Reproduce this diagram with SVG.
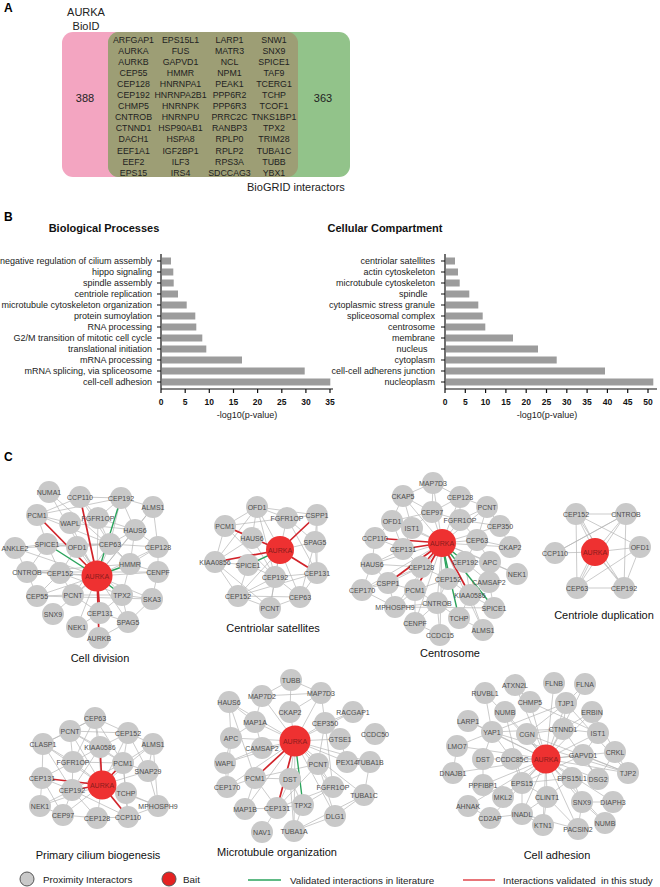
<svg xmlns="http://www.w3.org/2000/svg" width="660" height="887" viewBox="0 0 660 887">
<style>
text{font-family:"Liberation Sans",Arial,sans-serif;fill:#222}
.pl{font-weight:bold;font-size:12px;fill:#000}
.vt{font-size:8.8px;text-anchor:middle;fill:#222}
.ct{font-size:9px;text-anchor:end;fill:#222}
.tk{font-size:8.5px;font-weight:bold;text-anchor:middle;fill:#111}
.ttl{font-size:11px;font-weight:bold;text-anchor:middle;fill:#111}
.nt{font-size:11px;text-anchor:middle;fill:#111}
.bar{fill:#9c9c9c}
.ax{stroke:#111;stroke-width:1.2;fill:none}
.e{stroke:#b4b4b4;stroke-width:0.7;fill:none}
.r{stroke:#d1232a;stroke-width:1.7}
.g{stroke:#2ba35c;stroke-width:1.4}
.n circle{fill:#c9c9c9}
.n text{font-size:7px;text-anchor:middle;fill:#4d4d4d}
.b circle{fill:#ee3131}
.b text{font-size:7px;text-anchor:middle;fill:#8a1c1c}
.lg{font-size:9.8px;fill:#222}
</style>

<!-- Panel A -->
<g id="panelA">
<text class="pl" x="4" y="12">A</text>
<text x="86" y="16" font-size="11" text-anchor="middle">AURKA</text>
<text x="86" y="30" font-size="11" text-anchor="middle">BioID</text>
<rect x="62" y="32" width="236" height="145" rx="11" fill="#f3a5c1"/>
<rect x="108" y="32" width="242" height="145" rx="11" fill="#92c38a"/>
<rect x="108" y="32" width="190" height="145" rx="11" fill="#9d9e75"/>
<text x="85" y="102" font-size="11" text-anchor="middle">388</text>
<text x="323" y="102" font-size="11" text-anchor="middle">363</text>
<text x="247" y="191" font-size="11">BioGRID interactors</text>
<g id="overlap-list">
<text class="vt" x="133.5" y="42.5">ARFGAP1</text><text class="vt" x="180.5" y="42.5">EPS15L1</text><text class="vt" x="229.5" y="42.5">LARP1</text><text class="vt" x="274" y="42.5">SNW1</text>
<text class="vt" x="133.5" y="53.6">AURKA</text><text class="vt" x="180.5" y="53.6">FUS</text><text class="vt" x="229.5" y="53.6">MATR3</text><text class="vt" x="274" y="53.6">SNX9</text>
<text class="vt" x="133.5" y="64.7">AURKB</text><text class="vt" x="180.5" y="64.7">GAPVD1</text><text class="vt" x="229.5" y="64.7">NCL</text><text class="vt" x="274" y="64.7">SPICE1</text>
<text class="vt" x="133.5" y="75.8">CEP55</text><text class="vt" x="180.5" y="75.8">HMMR</text><text class="vt" x="229.5" y="75.8">NPM1</text><text class="vt" x="274" y="75.8">TAF9</text>
<text class="vt" x="133.5" y="86.9">CEP128</text><text class="vt" x="180.5" y="86.9">HNRNPA1</text><text class="vt" x="229.5" y="86.9">PEAK1</text><text class="vt" x="274" y="86.9">TCERG1</text>
<text class="vt" x="133.5" y="98">CEP192</text><text class="vt" x="180.5" y="98">HNRNPA2B1</text><text class="vt" x="229.5" y="98">PPP6R2</text><text class="vt" x="274" y="98">TCHP</text>
<text class="vt" x="133.5" y="109.1">CHMP5</text><text class="vt" x="180.5" y="109.1">HNRNPK</text><text class="vt" x="229.5" y="109.1">PPP6R3</text><text class="vt" x="274" y="109.1">TCOF1</text>
<text class="vt" x="133.5" y="120.2">CNTROB</text><text class="vt" x="180.5" y="120.2">HNRNPU</text><text class="vt" x="229.5" y="120.2">PRRC2C</text><text class="vt" x="274" y="120.2">TNKS1BP1</text>
<text class="vt" x="133.5" y="131.3">CTNND1</text><text class="vt" x="180.5" y="131.3">HSP90AB1</text><text class="vt" x="229.5" y="131.3">RANBP3</text><text class="vt" x="274" y="131.3">TPX2</text>
<text class="vt" x="133.5" y="142.4">DACH1</text><text class="vt" x="180.5" y="142.4">HSPA8</text><text class="vt" x="229.5" y="142.4">RPLP0</text><text class="vt" x="274" y="142.4">TRIM28</text>
<text class="vt" x="133.5" y="153.5">EEF1A1</text><text class="vt" x="180.5" y="153.5">IGF2BP1</text><text class="vt" x="229.5" y="153.5">RPLP2</text><text class="vt" x="274" y="153.5">TUBA1C</text>
<text class="vt" x="133.5" y="164.6">EEF2</text><text class="vt" x="180.5" y="164.6">ILF3</text><text class="vt" x="229.5" y="164.6">RPS3A</text><text class="vt" x="274" y="164.6">TUBB</text>
<text class="vt" x="133.5" y="175.7">EPS15</text><text class="vt" x="180.5" y="175.7">IRS4</text><text class="vt" x="229.5" y="175.7">SDCCAG3</text><text class="vt" x="274" y="175.7">YBX1</text>
</g>
</g>

<!-- Panel B -->
<g id="panelB">
<text class="pl" x="4" y="221">B</text>
<text class="ttl" x="104" y="232">Biological Processes</text>
<text class="ttl" x="385" y="232">Cellular Compartment</text>
<g id="chart-bp">
<rect class="bar" x="162" y="257.5" width="9" height="7"/>
<rect class="bar" x="162" y="268.5" width="11.3" height="7"/>
<rect class="bar" x="162" y="279.5" width="11.7" height="7"/>
<rect class="bar" x="162" y="290.5" width="16" height="7"/>
<rect class="bar" x="162" y="301.5" width="24.7" height="7"/>
<rect class="bar" x="162" y="312.5" width="33.3" height="7"/>
<rect class="bar" x="162" y="323.5" width="34.3" height="7"/>
<rect class="bar" x="162" y="334.5" width="40.3" height="7"/>
<rect class="bar" x="162" y="345.5" width="44.3" height="7"/>
<rect class="bar" x="162" y="356.5" width="80" height="7"/>
<rect class="bar" x="162" y="367.5" width="142.7" height="7"/>
<rect class="bar" x="162" y="378.5" width="168.3" height="7"/>
<path class="ax" d="M161 254V389H333M157 261H161M157 272H161M157 283H161M157 294H161M157 305H161M157 316H161M157 327H161M157 338H161M157 349H161M157 360H161M157 371H161M157 382H161M161 389V393M185.2 389V393M209.3 389V393M233.5 389V393M257.6 389V393M281.8 389V393M305.9 389V393M330 389V393"/>
<text class="ct" x="152" y="264">negative regulation of cilium assembly</text>
<text class="ct" x="152" y="275">hippo signaling</text>
<text class="ct" x="152" y="286">spindle assembly</text>
<text class="ct" x="152" y="297">centriole replication</text>
<text class="ct" x="152" y="308">microtubule cytoskeleton organization</text>
<text class="ct" x="152" y="319">protein sumoylation</text>
<text class="ct" x="152" y="330">RNA processing</text>
<text class="ct" x="152" y="341">G2/M transition of mitotic cell cycle</text>
<text class="ct" x="152" y="352">translational initiation</text>
<text class="ct" x="152" y="363">mRNA processing</text>
<text class="ct" x="152" y="374">mRNA splicing, via spliceosome</text>
<text class="ct" x="152" y="385">cell-cell adhesion</text>
<text class="tk" x="161" y="405">0</text><text class="tk" x="185.2" y="405">5</text><text class="tk" x="209.3" y="405">10</text><text class="tk" x="233.5" y="405">15</text><text class="tk" x="257.6" y="405">20</text><text class="tk" x="281.8" y="405">25</text><text class="tk" x="305.9" y="405">30</text><text class="tk" x="330" y="405">35</text>
<text x="247" y="418" font-size="9" text-anchor="middle">-log10(p-value)</text>
</g>
<g id="chart-cc">
<rect class="bar" x="446" y="257.5" width="9" height="7"/>
<rect class="bar" x="446" y="268.5" width="12" height="7"/>
<rect class="bar" x="446" y="279.5" width="13.7" height="7"/>
<rect class="bar" x="446" y="290.5" width="23.3" height="7"/>
<rect class="bar" x="446" y="301.5" width="32.3" height="7"/>
<rect class="bar" x="446" y="312.5" width="36.7" height="7"/>
<rect class="bar" x="446" y="323.5" width="39.3" height="7"/>
<rect class="bar" x="446" y="334.5" width="67" height="7"/>
<rect class="bar" x="446" y="345.5" width="92" height="7"/>
<rect class="bar" x="446" y="356.5" width="110.7" height="7"/>
<rect class="bar" x="446" y="367.5" width="159" height="7"/>
<rect class="bar" x="446" y="378.5" width="207.3" height="7"/>
<path class="ax" d="M445 254V389H657M441 261H445M441 272H445M441 283H445M441 294H445M441 305H445M441 316H445M441 327H445M441 338H445M441 349H445M441 360H445M441 371H445M441 382H445M445 389V393M465.3 389V393M485.6 389V393M505.9 389V393M526.2 389V393M546.5 389V393M566.8 389V393M587.1 389V393M607.4 389V393M627.7 389V393M648 389V393"/>
<text class="ct" x="435" y="264">centriolar satellites</text>
<text class="ct" x="435" y="275">actin cytoskeleton</text>
<text class="ct" x="435" y="286">microtubule cytoskeleton</text>
<text class="ct" x="435" y="297" xml:space="preserve">spindle   </text>
<text class="ct" x="435" y="308">cytoplasmic stress granule</text>
<text class="ct" x="435" y="319">spliceosomal complex</text>
<text class="ct" x="435" y="330">centrosome</text>
<text class="ct" x="435" y="341">membrane</text>
<text class="ct" x="435" y="352" xml:space="preserve">nucleus   </text>
<text class="ct" x="435" y="363">cytoplasm</text>
<text class="ct" x="435" y="374">cell-cell adherens junction</text>
<text class="ct" x="435" y="385">nucleoplasm</text>
<text class="tk" x="445" y="405">0</text><text class="tk" x="465.3" y="405">5</text><text class="tk" x="485.6" y="405">10</text><text class="tk" x="505.9" y="405">15</text><text class="tk" x="526.2" y="405">20</text><text class="tk" x="546.5" y="405">25</text><text class="tk" x="566.8" y="405">30</text><text class="tk" x="587.1" y="405">35</text><text class="tk" x="607.4" y="405">40</text><text class="tk" x="627.7" y="405">45</text><text class="tk" x="648" y="405">50</text>
<text x="547" y="418" font-size="9" text-anchor="middle">-log10(p-value)</text>
</g>
</g>

<!-- Panel C -->
<text class="pl" x="4" y="461">C</text>

<g id="connectors">
<g id="edges-cell-division">
<path class="e" d="M97 576L49 492M97 576L98 518M97 576L153 507M97 576L70 523M97 576L135 530M97 576L15 548M97 576L77 547M97 576L110 544M97 576L158 547M97 576L27 572M97 576L60 573M97 576L158 572M97 576L37 596M97 576L73 595M97 576L152 599M97 576L53 614M97 576L128 622M97 576L77 627
M80 497L121 498M80 497L37 515M80 497L98 518M80 497L110 544M121 498L153 507M121 498L135 530M121 498L98 518M121 498L110 544M121 498L37 515M153 507L135 530M153 507L158 547M37 515L70 523M37 515L47 544M37 515L110 544M70 523L135 530M98 518L135 530M98 518L110 544M135 530L158 547M135 530L130 564M135 530L110 544M15 548L47 544M15 548L27 572M15 548L110 544M47 544L77 547M47 544L110 544M47 544L60 573M47 544L27 572M77 547L110 544M77 547L60 573M110 544L130 564M110 544L158 547M158 547L158 572M158 547L130 564M27 572L60 573M27 572L37 596M27 572L158 572M60 573L73 595M60 573L37 596M130 564L158 572M130 564L122 595M158 572L152 599M37 596L73 595M73 595L122 595M73 595L100 613M122 595L152 599M122 595L128 622M122 595L100 613M152 599L128 622M100 613L128 622M100 613L77 627M128 622L99 638M49 492L130 564M27 572L130 564M37 596L152 599M60 573L122 595M77 547L122 595M110 544L73 595"/>
<line class="r" x1="97" y1="576" x2="80" y2="497"/>
<line class="r" x1="97" y1="576" x2="37" y2="515"/>
<line class="r" x1="97" y1="576" x2="100" y2="613"/>
<line class="r" x1="97" y1="576" x2="99" y2="638"/>
<line class="g" x1="97" y1="576" x2="47" y2="544"/>
<line class="g" x1="97" y1="576" x2="121" y2="498"/>
<line class="g" x1="97" y1="576" x2="130" y2="564"/>
<line class="g" x1="97" y1="576" x2="122" y2="595"/>
</g>
<g id="edges-centriolar-satellites">
<path class="e" d="M280 550L257 507M280 550L287 518M280 550L252 538M280 550L315 542M280 550L275 577M280 550L238 596M280 550L300 597M280 550L270 608
M257 507L225 526M257 507L287 518M257 507L317 515M257 507L252 538M257 507L215 562M257 507L275 577M287 518L317 515M287 518L225 526M287 518L315 542M287 518L317 573M317 515L315 542M317 515L317 573M225 526L252 538M225 526L215 562M225 526L275 577M252 538L215 562M252 538L275 577M315 542L317 573M315 542L300 597M215 562L248 565M215 562L238 596M215 562L270 608M248 565L275 577M248 565L238 596M275 577L317 573M275 577L300 597M275 577L238 596M275 577L270 608M317 573L300 597M238 596L270 608M300 597L270 608M238 596L300 597M238 596L317 573"/>
<line class="r" x1="280" y1="550" x2="225" y2="526"/>
<line class="r" x1="280" y1="550" x2="215" y2="562"/>
<line class="r" x1="280" y1="550" x2="317" y2="515"/>
<line class="r" x1="280" y1="550" x2="317" y2="573"/>
<line class="g" x1="280" y1="550" x2="248" y2="565"/>
</g>
<g id="edges-centrosome">
<path class="e" d="M442 543L433 483M442 543L403 496M442 543L460 497M442 543L487 507M442 543L432 512M442 543L392 521M442 543L412 528M442 543L460 520M442 543L500 526M442 543L477 540M442 543L510 547M442 543L372 564M442 543L490 562M442 543L517 574M442 543L489 582M442 543L362 590M442 543L395 607M442 543L437 603M442 543L483 630M442 543L415 623M442 543L440 635
M433 483L403 496M433 483L460 497M433 483L432 512M403 496L432 512M403 496L392 521M403 496L412 528M460 497L487 507M460 497L432 512M460 497L460 520M487 507L460 520M487 507L500 526M487 507L477 540M432 512L392 521M432 512L412 528M432 512L460 520M392 521L412 528M392 521L375 538M392 521L403 549M412 528L403 549M460 520L477 540M460 520L500 526M500 526L510 547M477 540L510 547M477 540L465 562M477 540L490 562M375 538L372 564M375 538L403 549M403 549L372 564M403 549L421 567M372 564L362 590M372 564L388 583M465 562L490 562M465 562L448 579M465 562L470 595M490 562L517 574M490 562L489 582M421 567L388 583M421 567L415 590M421 567L448 579M388 583L362 590M388 583L415 590M388 583L395 607M448 579L415 590M448 579L437 603M448 579L470 595M489 582L470 595M489 582L494 608M362 590L395 607M415 590L437 603M415 590L395 607M415 590L415 623M470 595L494 608M470 595L459 618M470 595L483 630M395 607L437 603M395 607L494 608M437 603L459 618M437 603L415 623M437 603L440 635M459 618L483 630M415 623L440 635M362 590L421 567M372 564L421 567"/>
<line class="r" x1="442" y1="543" x2="375" y2="538"/>
<line class="r" x1="442" y1="543" x2="403" y2="549"/>
<line class="r" x1="442" y1="543" x2="388" y2="583"/>
<line class="r" x1="442" y1="543" x2="421" y2="567"/>
<line class="r" x1="442" y1="543" x2="470" y2="595"/>
<line class="r" x1="442" y1="543" x2="415" y2="590"/>
<line class="g" x1="442" y1="543" x2="494" y2="608"/>
<line class="g" x1="442" y1="543" x2="459" y2="618"/>
<line class="g" x1="442" y1="543" x2="448" y2="579"/>
<line class="g" x1="442" y1="543" x2="465" y2="562"/>
</g>
<g id="edges-centriole-duplication">
<path class="e" d="M595 552L576 514M595 552L626 514M595 552L555 553M595 552L640 547M595 552L577 588M595 552L624 588M598 550L579 514M592 554L574 590M597 554L627 590M576 514L626 514M576 514L577 588M576 514L640 547M576 514L624 588M626 514L555 553M626 514L624 588M626 514L577 588M640 547L577 588M640 547L624 588M577 588L624 588M555 553L626 514"/>
</g>
<g id="edges-primary-cilium">
<path class="e" d="M102 785L95 718M102 785L70 731M102 785L128 733M102 785L43 744M102 785L153 744M102 785L73 762M102 785L148 771M102 785L40 806M102 785L158 806M102 785L63 815M102 785L97 818
M95 718L70 731M95 718L128 733M95 718L100 747M95 718L43 744M95 718L73 762M95 718L123 763M70 731L128 733M70 731L43 744M70 731L100 747M70 731L73 762M70 731L123 763M128 733L153 744M128 733L100 747M128 733L123 763M128 733L148 771M43 744L73 762M43 744L42 778M43 744L72 790M100 747L73 762M100 747L123 763M100 747L72 790M153 744L123 763M153 744L148 771M153 744L158 806M73 762L42 778M73 762L72 790M73 762L123 763M123 763L148 771M123 763L126 793M123 763L72 790M123 763L128 817M42 778L72 790M42 778L40 806M42 778L63 815M72 790L40 806M72 790L63 815M72 790L97 818M72 790L128 817M126 793L158 806M126 793L128 817M63 815L97 818M97 818L128 817M128 817L158 806M40 806L63 815M148 771L158 806"/>
<line class="r" x1="102" y1="785" x2="100" y2="747"/>
<line class="r" x1="102" y1="785" x2="123" y2="763"/>
<line class="r" x1="102" y1="785" x2="42" y2="778"/>
<line class="r" x1="102" y1="785" x2="128" y2="817"/>
<line class="r" x1="102" y1="785" x2="72" y2="790"/>
<line class="g" x1="102" y1="785" x2="126" y2="793"/>
</g>
<g id="edges-microtubule">
<path class="e" d="M295 741L262 696M295 741L321 693M295 741L229 702M295 741L290 712M295 741L255 722M295 741L325 723M295 741L231 738M295 741L340 739M295 741L262 748M295 741L225 763M295 741L347 762M295 741L370 762M295 741L318 764M295 741L290 779M295 741L227 787M295 741L333 787M295 741L364 795M295 741L245 809M295 741L335 816M295 741L294 831M295 741L353 712
M291 680L262 696M291 680L321 693M291 680L290 712M262 696L321 693M321 693L325 723M321 693L290 712M229 702L255 722M229 702L231 738M229 702L255 778M255 722L262 748M255 722L231 738M325 723L353 712M325 723L340 739M325 723L318 764M325 723L333 787M231 738L225 763M231 738L227 787M225 763L262 748M225 763L227 787M347 762L370 762M370 762L364 795M364 795L335 816M364 795L294 831M318 764L255 778M318 764L333 787M318 764L277 808M318 764L335 816M255 778L227 787M255 778L277 808M255 778L245 809M255 778L290 779M290 779L277 808M290 779L303 805M290 779L294 831M333 787L303 805M333 787L277 808M277 808L262 832M277 808L303 805M335 816L294 831M245 809L277 808M303 805L294 831M340 739L347 762M262 696L255 722"/>
<line class="r" x1="295" y1="741" x2="255" y2="778"/>
<line class="r" x1="295" y1="741" x2="277" y2="808"/>
<line class="g" x1="295" y1="741" x2="303" y2="805"/>
</g>
<g id="edges-cell-adhesion">
<path class="e" d="M546 759L554 683M546 759L515 685M546 759L585 684M546 759L485 693M546 759L530 702M546 759L566 703M546 759L505 712M546 759L592 712M546 759L468 721M546 759L492 732M546 759L527 734M546 759L563 729M546 759L598 733M546 759L457 746M546 759L615 752M546 759L483 759M546 759L512 759M546 759L583 755M546 759L628 773M546 759L453 773M546 759L483 785M546 759L522 783M546 759L572 778M546 759L598 779M546 759L468 806M546 759L503 797M546 759L547 797M546 759L582 802M546 759L613 802M546 759L490 818M546 759L522 814M546 759L543 825M546 759L578 829M546 759L605 823
M585 684L566 703M566 703L563 729M566 703L527 734M566 703L628 773M566 703L492 732M592 712L563 729M592 712L628 773M563 729L527 734M563 729L598 733M563 729L492 732M563 729L598 779M492 732L468 721M492 732L457 746M492 732L512 759M492 732L483 759M492 732L628 773M527 734L628 773M598 733L583 755M583 755L628 773M583 755L522 783M583 755L598 779M615 752L598 779M483 759L483 785M512 759L522 783M522 783L547 797M522 783L522 814M522 783L503 797M522 783L572 778M572 778L582 802M572 778L547 797M547 797L522 814M547 797L578 829M547 797L543 825M582 802L578 829M582 802L605 823M582 802L613 802M522 814L490 818M522 814L543 825M522 814L578 829M490 818L468 806M457 746L453 773M485 693L492 732M515 685L530 702M530 702L598 733M505 712L522 783"/>
</g>
</g>

<!-- Nodes: Cell division -->
<g id="net-cell-division">
<g id="cd-NUMA1" class="n"><circle cx="49" cy="492" r="11"/><text x="49" y="494.5">NUMA1</text></g>
<g id="cd-CCP110" class="n"><circle cx="80" cy="497" r="11"/><text x="80" y="499.5">CCP110</text></g>
<g id="cd-CEP192" class="n"><circle cx="121" cy="498" r="11"/><text x="121" y="500.5">CEP192</text></g>
<g id="cd-ALMS1" class="n"><circle cx="153" cy="507" r="11"/><text x="153" y="509.5">ALMS1</text></g>
<g id="cd-PCM1" class="n"><circle cx="37" cy="515" r="11"/><text x="37" y="517.5">PCM1</text></g>
<g id="cd-WAPL" class="n"><circle cx="70" cy="523" r="11"/><text x="70" y="525.5">WAPL</text></g>
<g id="cd-FGFR1OP" class="n"><circle cx="98" cy="518" r="11"/><text x="98" y="520.5">FGFR1OP</text></g>
<g id="cd-HAUS6" class="n"><circle cx="135" cy="530" r="11"/><text x="135" y="532.5">HAUS6</text></g>
<g id="cd-ANKLE2" class="n"><circle cx="15" cy="548" r="11"/><text x="15" y="550.5">ANKLE2</text></g>
<g id="cd-SPICE1" class="n"><circle cx="47" cy="544" r="11"/><text x="47" y="546.5">SPICE1</text></g>
<g id="cd-OFD1" class="n"><circle cx="77" cy="547" r="11"/><text x="77" y="549.5">OFD1</text></g>
<g id="cd-CEP63" class="n"><circle cx="110" cy="544" r="11"/><text x="110" y="546.5">CEP63</text></g>
<g id="cd-CEP128" class="n"><circle cx="158" cy="547" r="11"/><text x="158" y="549.5">CEP128</text></g>
<g id="cd-CNTROB" class="n"><circle cx="27" cy="572" r="11"/><text x="27" y="574.5">CNTROB</text></g>
<g id="cd-CEP152" class="n"><circle cx="60" cy="573" r="11"/><text x="60" y="575.5">CEP152</text></g>
<g id="cd-HMMR" class="n"><circle cx="130" cy="564" r="11"/><text x="130" y="566.5">HMMR</text></g>
<g id="cd-CENPF" class="n"><circle cx="158" cy="572" r="11"/><text x="158" y="574.5">CENPF</text></g>
<g id="cd-CEP55" class="n"><circle cx="37" cy="596" r="11"/><text x="37" y="598.5">CEP55</text></g>
<g id="cd-PCNT" class="n"><circle cx="73" cy="595" r="11"/><text x="73" y="597.5">PCNT</text></g>
<g id="cd-TPX2" class="n"><circle cx="122" cy="595" r="11"/><text x="122" y="597.5">TPX2</text></g>
<g id="cd-SKA3" class="n"><circle cx="152" cy="599" r="11"/><text x="152" y="601.5">SKA3</text></g>
<g id="cd-SNX9" class="n"><circle cx="53" cy="614" r="11"/><text x="53" y="616.5">SNX9</text></g>
<g id="cd-CEP131" class="n"><circle cx="100" cy="613" r="11"/><text x="100" y="615.5">CEP131</text></g>
<g id="cd-SPAG5" class="n"><circle cx="128" cy="622" r="11"/><text x="128" y="624.5">SPAG5</text></g>
<g id="cd-NEK1" class="n"><circle cx="77" cy="627" r="11"/><text x="77" y="629.5">NEK1</text></g>
<g id="cd-AURKB" class="n"><circle cx="99" cy="638" r="11"/><text x="99" y="640.5">AURKB</text></g>
<g id="cd-AURKA" class="b"><circle cx="97" cy="576" r="15.5"/><text x="97" y="578.5">AURKA</text></g>
<text class="nt" x="100" y="662">Cell division</text>
</g>

<g id="net-centriolar-satellites">
<g id="cs-OFD1" class="n"><circle cx="257" cy="507" r="11"/><text x="257" y="509.5">OFD1</text></g>
<g id="cs-FGFR1OP" class="n"><circle cx="287" cy="518" r="11"/><text x="287" y="520.5">FGFR1OP</text></g>
<g id="cs-CSPP1" class="n"><circle cx="317" cy="515" r="11"/><text x="317" y="517.5">CSPP1</text></g>
<g id="cs-PCM1" class="n"><circle cx="225" cy="526" r="11"/><text x="225" y="528.5">PCM1</text></g>
<g id="cs-HAUS6" class="n"><circle cx="252" cy="538" r="11"/><text x="252" y="540.5">HAUS6</text></g>
<g id="cs-SPAG5" class="n"><circle cx="315" cy="542" r="11"/><text x="315" y="544.5">SPAG5</text></g>
<g id="cs-KIAA0856" class="n"><circle cx="215" cy="562" r="11"/><text x="215" y="564.5">KIAA0856</text></g>
<g id="cs-SPICE1" class="n"><circle cx="248" cy="565" r="11"/><text x="248" y="567.5">SPICE1</text></g>
<g id="cs-CEP192" class="n"><circle cx="275" cy="577" r="11"/><text x="275" y="579.5">CEP192</text></g>
<g id="cs-CEP131" class="n"><circle cx="317" cy="573" r="11"/><text x="317" y="575.5">CEP131</text></g>
<g id="cs-CEP152" class="n"><circle cx="238" cy="596" r="11"/><text x="238" y="598.5">CEP152</text></g>
<g id="cs-CEP63" class="n"><circle cx="300" cy="597" r="11"/><text x="300" y="599.5">CEP63</text></g>
<g id="cs-PCNT" class="n"><circle cx="270" cy="608" r="11"/><text x="270" y="610.5">PCNT</text></g>
<g id="cs-AURKA" class="b"><circle cx="280" cy="550" r="14"/><text x="280" y="552.5">AURKA</text></g>
<text class="nt" x="273" y="632">Centriolar satellites</text>
</g>

<g id="net-centrosome">
<g id="cn-MAP7D3" class="n"><circle cx="433" cy="483" r="11"/><text x="433" y="485.5">MAP7D3</text></g>
<g id="cn-CKAP5" class="n"><circle cx="403" cy="496" r="11"/><text x="403" y="498.5">CKAP5</text></g>
<g id="cn-CEP128" class="n"><circle cx="460" cy="497" r="11"/><text x="460" y="499.5">CEP128</text></g>
<g id="cn-PCNT" class="n"><circle cx="487" cy="507" r="11"/><text x="487" y="509.5">PCNT</text></g>
<g id="cn-CEP97" class="n"><circle cx="432" cy="512" r="11"/><text x="432" y="514.5">CEP97</text></g>
<g id="cn-OFD1" class="n"><circle cx="392" cy="521" r="11"/><text x="392" y="523.5">OFD1</text></g>
<g id="cn-IST1" class="n"><circle cx="412" cy="528" r="11"/><text x="412" y="530.5">IST1</text></g>
<g id="cn-FGFR1OP" class="n"><circle cx="460" cy="520" r="11"/><text x="460" y="522.5">FGFR1OP</text></g>
<g id="cn-CEP350" class="n"><circle cx="500" cy="526" r="11"/><text x="500" y="528.5">CEP350</text></g>
<g id="cn-CCP110" class="n"><circle cx="375" cy="538" r="11"/><text x="375" y="540.5">CCP110</text></g>
<g id="cn-CEP63" class="n"><circle cx="477" cy="540" r="11"/><text x="477" y="542.5">CEP63</text></g>
<g id="cn-CKAP2" class="n"><circle cx="510" cy="547" r="11"/><text x="510" y="549.5">CKAP2</text></g>
<g id="cn-CEP131" class="n"><circle cx="403" cy="549" r="11"/><text x="403" y="551.5">CEP131</text></g>
<g id="cn-HAUS6" class="n"><circle cx="372" cy="564" r="11"/><text x="372" y="566.5">HAUS6</text></g>
<g id="cn-CEP192" class="n"><circle cx="465" cy="562" r="11"/><text x="465" y="564.5">CEP192</text></g>
<g id="cn-APC" class="n"><circle cx="490" cy="562" r="11"/><text x="490" y="564.5">APC</text></g>
<g id="cn-NEK1" class="n"><circle cx="517" cy="574" r="11"/><text x="517" y="576.5">NEK1</text></g>
<g id="cn-CEP128b" class="n"><circle cx="421" cy="567" r="11"/><text x="421" y="569.5">CEP128</text></g>
<g id="cn-CSPP1" class="n"><circle cx="388" cy="583" r="11"/><text x="388" y="585.5">CSPP1</text></g>
<g id="cn-CEP152" class="n"><circle cx="448" cy="579" r="11"/><text x="448" y="581.5">CEP152</text></g>
<g id="cn-CAMSAP2" class="n"><circle cx="489" cy="582" r="11"/><text x="489" y="584.5">CAMSAP2</text></g>
<g id="cn-CEP170" class="n"><circle cx="362" cy="590" r="11"/><text x="362" y="592.5">CEP170</text></g>
<g id="cn-PCM1" class="n"><circle cx="415" cy="590" r="11"/><text x="415" y="592.5">PCM1</text></g>
<g id="cn-KIAA0586" class="n"><circle cx="470" cy="595" r="11"/><text x="470" y="597.5">KIAA0586</text></g>
<g id="cn-SPICE1" class="n"><circle cx="494" cy="608" r="11"/><text x="494" y="610.5">SPICE1</text></g>
<g id="cn-MPHOSPH9" class="n"><circle cx="395" cy="607" r="11"/><text x="395" y="609.5">MPHOSPH9</text></g>
<g id="cn-CNTROB" class="n"><circle cx="437" cy="603" r="11"/><text x="437" y="605.5">CNTROB</text></g>
<g id="cn-TCHP" class="n"><circle cx="459" cy="618" r="11"/><text x="459" y="620.5">TCHP</text></g>
<g id="cn-ALMS1" class="n"><circle cx="483" cy="630" r="11"/><text x="483" y="632.5">ALMS1</text></g>
<g id="cn-CENPF" class="n"><circle cx="415" cy="623" r="11"/><text x="415" y="625.5">CENPF</text></g>
<g id="cn-CCDC15" class="n"><circle cx="440" cy="635" r="11"/><text x="440" y="637.5">CCDC15</text></g>
<g id="cn-AURKA" class="b"><circle cx="442" cy="543" r="14"/><text x="442" y="545.5">AURKA</text></g>
<text class="nt" x="450" y="657">Centrosome</text>
</g>

<g id="net-centriole-duplication">
<g id="dp-CEP152" class="n"><circle cx="576" cy="514" r="11"/><text x="576" y="516.5">CEP152</text></g>
<g id="dp-CNTROB" class="n"><circle cx="626" cy="514" r="11"/><text x="626" y="516.5">CNTROB</text></g>
<g id="dp-CCP110" class="n"><circle cx="555" cy="553" r="11"/><text x="555" y="555.5">CCP110</text></g>
<g id="dp-OFD1" class="n"><circle cx="640" cy="547" r="11"/><text x="640" y="549.5">OFD1</text></g>
<g id="dp-CEP63" class="n"><circle cx="577" cy="588" r="11"/><text x="577" y="590.5">CEP63</text></g>
<g id="dp-CEP192" class="n"><circle cx="624" cy="588" r="11"/><text x="624" y="590.5">CEP192</text></g>
<g id="dp-AURKA" class="b"><circle cx="595" cy="552" r="14"/><text x="595" y="554.5">AURKA</text></g>
<text class="nt" x="604" y="619">Centriole duplication</text>
</g>

<g id="net-primary-cilium">
<g id="pc-CEP63" class="n"><circle cx="95" cy="718" r="11"/><text x="95" y="720.5">CEP63</text></g>
<g id="pc-PCNT" class="n"><circle cx="70" cy="731" r="11"/><text x="70" y="733.5">PCNT</text></g>
<g id="pc-CEP152" class="n"><circle cx="128" cy="733" r="11"/><text x="128" y="735.5">CEP152</text></g>
<g id="pc-CLASP1" class="n"><circle cx="43" cy="744" r="11"/><text x="43" y="746.5">CLASP1</text></g>
<g id="pc-KIAA0586" class="n"><circle cx="100" cy="747" r="11"/><text x="100" y="749.5">KIAA0586</text></g>
<g id="pc-ALMS1" class="n"><circle cx="153" cy="744" r="11"/><text x="153" y="746.5">ALMS1</text></g>
<g id="pc-FGFR1OP" class="n"><circle cx="73" cy="762" r="11"/><text x="73" y="764.5">FGFR1OP</text></g>
<g id="pc-PCM1" class="n"><circle cx="123" cy="763" r="11"/><text x="123" y="765.5">PCM1</text></g>
<g id="pc-SNAP29" class="n"><circle cx="148" cy="771" r="11"/><text x="148" y="773.5">SNAP29</text></g>
<g id="pc-CEP131" class="n"><circle cx="42" cy="778" r="11"/><text x="42" y="780.5">CEP131</text></g>
<g id="pc-CEP192" class="n"><circle cx="72" cy="790" r="11"/><text x="72" y="792.5">CEP192</text></g>
<g id="pc-TCHP" class="n"><circle cx="126" cy="793" r="11"/><text x="126" y="795.5">TCHP</text></g>
<g id="pc-NEK1" class="n"><circle cx="40" cy="806" r="11"/><text x="40" y="808.5">NEK1</text></g>
<g id="pc-MPHOSPH9" class="n"><circle cx="158" cy="806" r="11"/><text x="158" y="808.5">MPHOSPH9</text></g>
<g id="pc-CEP97" class="n"><circle cx="63" cy="815" r="11"/><text x="63" y="817.5">CEP97</text></g>
<g id="pc-CEP128" class="n"><circle cx="97" cy="818" r="11"/><text x="97" y="820.5">CEP128</text></g>
<g id="pc-CCP110" class="n"><circle cx="128" cy="817" r="11"/><text x="128" y="819.5">CCP110</text></g>
<g id="pc-AURKA" class="b"><circle cx="102" cy="785" r="14.5"/><text x="102" y="787.5">AURKA</text></g>
<text class="nt" x="98" y="859">Primary cilium biogenesis</text>
</g>

<g id="net-microtubule">
<g id="mt-TUBB" class="n"><circle cx="291" cy="680" r="11"/><text x="291" y="682.5">TUBB</text></g>
<g id="mt-MAP7D2" class="n"><circle cx="262" cy="696" r="11"/><text x="262" y="698.5">MAP7D2</text></g>
<g id="mt-MAP7D3" class="n"><circle cx="321" cy="693" r="11"/><text x="321" y="695.5">MAP7D3</text></g>
<g id="mt-HAUS6" class="n"><circle cx="229" cy="702" r="11"/><text x="229" y="704.5">HAUS6</text></g>
<g id="mt-CKAP2" class="n"><circle cx="290" cy="712" r="11"/><text x="290" y="714.5">CKAP2</text></g>
<g id="mt-RACGAP1" class="n"><circle cx="353" cy="712" r="11"/><text x="353" y="714.5">RACGAP1</text></g>
<g id="mt-MAP1A" class="n"><circle cx="255" cy="722" r="11"/><text x="255" y="724.5">MAP1A</text></g>
<g id="mt-CEP350" class="n"><circle cx="325" cy="723" r="11"/><text x="325" y="725.5">CEP350</text></g>
<g id="mt-APC" class="n"><circle cx="231" cy="738" r="11"/><text x="231" y="740.5">APC</text></g>
<g id="mt-GTSE1" class="n"><circle cx="340" cy="739" r="11"/><text x="340" y="741.5">GTSE1</text></g>
<g id="mt-CCDC50" class="n"><circle cx="375" cy="734" r="11"/><text x="375" y="736.5">CCDC50</text></g>
<g id="mt-CAMSAP2" class="n"><circle cx="262" cy="748" r="11"/><text x="262" y="750.5">CAMSAP2</text></g>
<g id="mt-WAPL" class="n"><circle cx="225" cy="763" r="11"/><text x="225" y="765.5">WAPL</text></g>
<g id="mt-PEX14" class="n"><circle cx="347" cy="762" r="11"/><text x="347" y="764.5">PEX14</text></g>
<g id="mt-TUBA1B" class="n"><circle cx="370" cy="762" r="11"/><text x="370" y="764.5">TUBA1B</text></g>
<g id="mt-PCNT" class="n"><circle cx="318" cy="764" r="11"/><text x="318" y="766.5">PCNT</text></g>
<g id="mt-PCM1" class="n"><circle cx="255" cy="778" r="11"/><text x="255" y="780.5">PCM1</text></g>
<g id="mt-DST" class="n"><circle cx="290" cy="779" r="11"/><text x="290" y="781.5">DST</text></g>
<g id="mt-CEP170" class="n"><circle cx="227" cy="787" r="11"/><text x="227" y="789.5">CEP170</text></g>
<g id="mt-FGFR1OP" class="n"><circle cx="333" cy="787" r="11"/><text x="333" y="789.5">FGFR1OP</text></g>
<g id="mt-TUBA1C" class="n"><circle cx="364" cy="795" r="11"/><text x="364" y="797.5">TUBA1C</text></g>
<g id="mt-MAP1B" class="n"><circle cx="245" cy="809" r="11"/><text x="245" y="811.5">MAP1B</text></g>
<g id="mt-CEP131" class="n"><circle cx="277" cy="808" r="11"/><text x="277" y="810.5">CEP131</text></g>
<g id="mt-TPX2" class="n"><circle cx="303" cy="805" r="11"/><text x="303" y="807.5">TPX2</text></g>
<g id="mt-DLG1" class="n"><circle cx="335" cy="816" r="11"/><text x="335" y="818.5">DLG1</text></g>
<g id="mt-NAV1" class="n"><circle cx="262" cy="832" r="11"/><text x="262" y="834.5">NAV1</text></g>
<g id="mt-TUBA1A" class="n"><circle cx="294" cy="831" r="11"/><text x="294" y="833.5">TUBA1A</text></g>
<g id="mt-AURKA" class="b"><circle cx="295" cy="741" r="15.5"/><text x="295" y="743.5">AURKA</text></g>
<text class="nt" x="277" y="856">Microtubule organization</text>
</g>

<g id="net-cell-adhesion">
<g id="ca-FLNB" class="n"><circle cx="554" cy="683" r="11"/><text x="554" y="685.5">FLNB</text></g>
<g id="ca-ATXN2L" class="n"><circle cx="515" cy="685" r="11"/><text x="515" y="687.5">ATXN2L</text></g>
<g id="ca-FLNA" class="n"><circle cx="585" cy="684" r="11"/><text x="585" y="686.5">FLNA</text></g>
<g id="ca-RUVBL1" class="n"><circle cx="485" cy="693" r="11"/><text x="485" y="695.5">RUVBL1</text></g>
<g id="ca-CHMP5" class="n"><circle cx="530" cy="702" r="11"/><text x="530" y="704.5">CHMP5</text></g>
<g id="ca-TJP1" class="n"><circle cx="566" cy="703" r="11"/><text x="566" y="705.5">TJP1</text></g>
<g id="ca-NUMB" class="n"><circle cx="505" cy="712" r="11"/><text x="505" y="714.5">NUMB</text></g>
<g id="ca-ERBIN" class="n"><circle cx="592" cy="712" r="11"/><text x="592" y="714.5">ERBIN</text></g>
<g id="ca-LARP1" class="n"><circle cx="468" cy="721" r="11"/><text x="468" y="723.5">LARP1</text></g>
<g id="ca-YAP1" class="n"><circle cx="492" cy="732" r="11"/><text x="492" y="734.5">YAP1</text></g>
<g id="ca-CGN" class="n"><circle cx="527" cy="734" r="11"/><text x="527" y="736.5">CGN</text></g>
<g id="ca-CTNND1" class="n"><circle cx="563" cy="729" r="11"/><text x="563" y="731.5">CTNND1</text></g>
<g id="ca-IST1" class="n"><circle cx="598" cy="733" r="11"/><text x="598" y="735.5">IST1</text></g>
<g id="ca-LMO7" class="n"><circle cx="457" cy="746" r="11"/><text x="457" y="748.5">LMO7</text></g>
<g id="ca-CRKL" class="n"><circle cx="615" cy="752" r="11"/><text x="615" y="754.5">CRKL</text></g>
<g id="ca-DST" class="n"><circle cx="483" cy="759" r="11"/><text x="483" y="761.5">DST</text></g>
<g id="ca-CCDC85C" class="n"><circle cx="512" cy="759" r="11"/><text x="512" y="761.5">CCDC85C</text></g>
<g id="ca-GAPVD1" class="n"><circle cx="583" cy="755" r="11"/><text x="583" y="757.5">GAPVD1</text></g>
<g id="ca-TJP2" class="n"><circle cx="628" cy="773" r="11"/><text x="628" y="775.5">TJP2</text></g>
<g id="ca-DNAJB1" class="n"><circle cx="453" cy="773" r="11"/><text x="453" y="775.5">DNAJB1</text></g>
<g id="ca-PPFIBP1" class="n"><circle cx="483" cy="785" r="11"/><text x="483" y="787.5">PPFIBP1</text></g>
<g id="ca-EPS15" class="n"><circle cx="522" cy="783" r="11"/><text x="522" y="785.5">EPS15</text></g>
<g id="ca-EPS15L1" class="n"><circle cx="572" cy="778" r="11"/><text x="572" y="780.5">EPS15L1</text></g>
<g id="ca-DSG2" class="n"><circle cx="598" cy="779" r="11"/><text x="598" y="781.5">DSG2</text></g>
<g id="ca-AHNAK" class="n"><circle cx="468" cy="806" r="11"/><text x="468" y="808.5">AHNAK</text></g>
<g id="ca-MKL2" class="n"><circle cx="503" cy="797" r="11"/><text x="503" y="799.5">MKL2</text></g>
<g id="ca-CLINT1" class="n"><circle cx="547" cy="797" r="11"/><text x="547" y="799.5">CLINT1</text></g>
<g id="ca-SNX9" class="n"><circle cx="582" cy="802" r="11"/><text x="582" y="804.5">SNX9</text></g>
<g id="ca-DIAPH3" class="n"><circle cx="613" cy="802" r="11"/><text x="613" y="804.5">DIAPH3</text></g>
<g id="ca-CD2AP" class="n"><circle cx="490" cy="818" r="11"/><text x="490" y="820.5">CD2AP</text></g>
<g id="ca-INADL" class="n"><circle cx="522" cy="814" r="11"/><text x="522" y="816.5">INADL</text></g>
<g id="ca-KTN1" class="n"><circle cx="543" cy="825" r="11"/><text x="543" y="827.5">KTN1</text></g>
<g id="ca-PACSIN2" class="n"><circle cx="578" cy="829" r="11"/><text x="578" y="831.5">PACSIN2</text></g>
<g id="ca-NUMB2" class="n"><circle cx="605" cy="823" r="11"/><text x="605" y="825.5">NUMB</text></g>
<g id="ca-AURKA" class="b"><circle cx="546" cy="759" r="14.5"/><text x="546" y="761.5">AURKA</text></g>
<text class="nt" x="557" y="859">Cell adhesion</text>
</g>

<g id="legend">
<circle cx="27" cy="879" r="7" fill="#c9c9c9" stroke="#555" stroke-width="1"/>
<text class="lg" x="43" y="882.5">Proximity Interactors</text>
<circle cx="169" cy="879" r="7" fill="#e52222" stroke="#555" stroke-width="1"/>
<text class="lg" x="183" y="882.5">Bait</text>
<line x1="248" y1="880" x2="281" y2="880" stroke="#2ba35c" stroke-width="1.5"/>
<text class="lg" x="290" y="883.5">Validated interactions in literature</text>
<line x1="463" y1="880" x2="495" y2="880" stroke="#e0474c" stroke-width="1.5"/>
<text class="lg" x="503" y="883.5" xml:space="preserve">Interactions validated  in this study</text>
</g>
</svg>
